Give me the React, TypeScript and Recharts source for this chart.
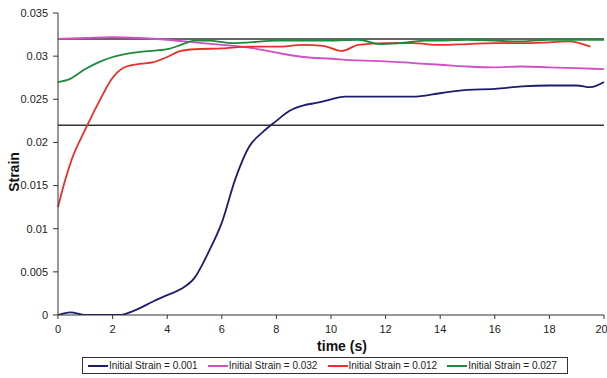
import React from 'react';
import { LineChart, Line, XAxis, YAxis, ReferenceLine } from 'recharts';

const FONT = '"Liberation Sans", Arial, sans-serif';

// strain readings per run, [time (s), strain]
const strain001 = [
  [0, 0], [0.45, 0.0003], [1, 0], [1.5, 0], [2, 0], [2.3, 0], [2.7, 0.0004], [3, 0.0008],
  [3.5, 0.0016], [4, 0.0023], [4.5, 0.003], [5, 0.0043], [5.5, 0.0072], [6, 0.0107],
  [6.5, 0.0158], [7, 0.0195], [7.5, 0.0212], [8, 0.0225], [8.5, 0.0237], [9, 0.0243],
  [9.5, 0.0246], [10, 0.025], [10.5, 0.0253], [11, 0.0253], [12, 0.0253], [13, 0.0253],
  [14, 0.0257], [15, 0.0261], [16, 0.0262], [17, 0.0265], [18, 0.0266], [19, 0.0266],
  [19.5, 0.0264], [20, 0.027],
];
const strain032 = [
  [0, 0.032], [1, 0.0321], [2, 0.0322], [3, 0.0321], [4, 0.0319], [5, 0.0316], [6, 0.0313],
  [7, 0.031], [8, 0.0304], [9, 0.0299], [10, 0.0297], [11, 0.0295], [12, 0.0294], [13, 0.0292],
  [14, 0.029], [15, 0.0288], [16, 0.0287], [17, 0.0288], [18, 0.0287], [19, 0.0286], [20, 0.0285],
];
const strain012 = [
  [0, 0.0125], [0.25, 0.0155], [0.5, 0.018], [1, 0.0215], [1.5, 0.0247], [2, 0.0275],
  [2.5, 0.0288], [3, 0.0291], [3.5, 0.0293], [4, 0.0299], [4.5, 0.0306], [5, 0.0308],
  [6, 0.0309], [7, 0.0311], [8, 0.0311], [9, 0.0313], [9.7, 0.0312], [10.4, 0.0306],
  [11, 0.0313], [12, 0.0315], [13, 0.0315], [14, 0.0313], [15, 0.0314], [16, 0.0315],
  [17, 0.0315], [18, 0.0316], [18.7, 0.0317], [19.5, 0.0311],
];
const strain027 = [
  [0, 0.027], [0.4, 0.0273], [1, 0.0285], [1.5, 0.0293], [2, 0.0299], [3, 0.0305],
  [4, 0.0308], [4.5, 0.0313], [5, 0.0318], [5.5, 0.0318], [6.4, 0.0315], [7, 0.0316],
  [8, 0.0318], [9, 0.0318], [10, 0.0318], [11, 0.0319], [11.8, 0.0314], [12.5, 0.0315],
  [13.5, 0.0318], [14, 0.0318], [15, 0.0319], [16, 0.0318], [16.8, 0.0317], [18, 0.0319],
  [19, 0.0319], [20, 0.0319],
];

const xTicks = [0, 2, 4, 6, 8, 10, 12, 14, 16, 18, 20];
const yTicks = [0, 0.005, 0.01, 0.015, 0.02, 0.025, 0.03, 0.035];
const refLevels = [0.032, 0.022];

const series = [
  { name: 'Initial Strain = 0.001', color: '#1c1c6e', points: strain001 },
  { name: 'Initial Strain = 0.032', color: '#d24fc6', points: strain032 },
  { name: 'Initial Strain = 0.012', color: '#ea2f2a', points: strain012 },
  { name: 'Initial Strain = 0.027', color: '#1e8a3c', points: strain027 },
];

const toRows = (pts: number[][]) => pts.map(([t, v]) => ({ t, v }));

const tickStyle = { fontSize: 11, fill: '#222', fontFamily: FONT };

export default function App() {
  return (
    <div style={{ position: 'absolute', left: 0, top: 0, width: 607, height: 378, background: '#fff', fontFamily: FONT }}>
      <LineChart width={607} height={378} margin={{ top: 13, right: 3, left: 0, bottom: 33 }}>
        <XAxis
          type="number"
          dataKey="t"
          domain={[0, 20]}
          ticks={xTicks}
          height={30}
          tickSize={4}
          tickMargin={6}
          tick={tickStyle}
          stroke="#333"
          allowDuplicatedCategory={false}
        />
        <YAxis
          type="number"
          domain={[0, 0.035]}
          ticks={yTicks}
          width={58}
          tickSize={5}
          tickMargin={5}
          tick={tickStyle}
          stroke="#333"
          allowDataOverflow
        />
        {refLevels.map((y) => (
          <ReferenceLine key={y} y={y} stroke="#333" strokeWidth={1.5} />
        ))}
        {series.map((s) => (
          <Line
            key={s.name}
            data={toRows(s.points)}
            dataKey="v"
            name={s.name}
            type="monotone"
            stroke={s.color}
            strokeWidth={1.8}
            dot={false}
            isAnimationActive={false}
          />
        ))}
      </LineChart>

      <div
        style={{
          position: 'absolute', left: 14, top: 172, transform: 'translate(-50%, -50%) rotate(-90deg)',
          fontWeight: 'bold', fontSize: 14, color: '#111', whiteSpace: 'nowrap',
        }}
      >
        Strain
      </div>
      <div
        style={{
          position: 'absolute', left: 342, top: 346, transform: 'translate(-50%, -50%)',
          fontWeight: 'bold', fontSize: 14, color: '#111', whiteSpace: 'nowrap',
        }}
      >
        time (s)
      </div>

      <div
        style={{
          position: 'absolute', left: 82, top: 357, width: 486, height: 17, boxSizing: 'border-box',
          border: '1px solid #333', display: 'flex', alignItems: 'center', paddingLeft: 5,
          fontSize: 10, color: '#222',
        }}
      >
        {series.map((s) => (
          <div key={s.name} style={{ display: 'flex', alignItems: 'center', width: 122 }}>
            <span style={{ display: 'inline-block', width: 20, height: 2, background: s.color, marginRight: 1 }} />
            <span style={{ whiteSpace: 'nowrap' }}>{s.name}</span>
          </div>
        ))}
      </div>
    </div>
  );
}
